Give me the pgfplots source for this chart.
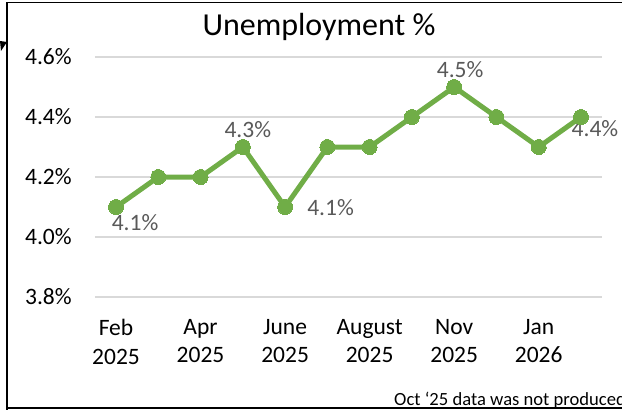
\documentclass[border=0pt]{standalone}
\usepackage{pgfplots}
\pgfplotsset{compat=1.18}
\usepackage{fontspec}
\setmainfont{Carlito}
\definecolor{exgreen}{HTML}{70AD47}
\definecolor{gridgray}{HTML}{D9D9D9}
\definecolor{lblgray}{HTML}{595959}
\newcommand{\tickfont}{\fontsize{23.5pt}{28.7pt}\selectfont}
\tikzset{lbl/.style={font=\tickfont, text=lblgray, inner sep=0pt}}
\begin{document}
\begin{tikzpicture}[x=1pt,y=1pt]
\useasboundingbox (0,0) rectangle (622,410);
\begin{scope}
\clip (0,0) rectangle (622,410);
\draw[line width=1.5pt] (7,-5) -- (7,407.5) -- (700,407.5);
\draw[line width=2pt] (7,1.5) -- (700,1.5);
\fill (0,369) -- (7,368) -- (1,359) -- cycle;
\node[anchor=base west, inner sep=0pt, font=\fontsize{18.6pt}{22pt}\selectfont] at (394,4.5) {Oct ‘25 data was not produced};
\end{scope}
\node[anchor=base, inner sep=0pt, font=\fontsize{32pt}{38pt}\selectfont] at (319,374) {Unemployment \%};
\begin{axis}[
  at={(94.9pt,113pt)}, anchor=south west,
  scale only axis, width=507.2pt, height=240pt,
  xmin=-0.5, xmax=11.5, ymin=3.8, ymax=4.6,
  axis line style={draw=none},
  major tick length=0pt,
  ytick={3.8,4.0,4.2,4.4,4.6},
  yticklabels={3.8\%,4.0\%,4.2\%,4.4\%,4.6\%},
  xtick={0,2,4,6,8,10},
  xticklabels={{Feb\\2025},{Apr\\2025},{June\\2025},{August\\2025},{Nov\\2025},{Jan\\2026}},
  ymajorgrids,
  grid style={gridgray, line width=1.5pt},
  tick label style={font=\tickfont, text=black},
  yticklabel style={anchor=east, inner sep=0pt, xshift=-23pt},
  xticklabel style={anchor=north, inner sep=0pt, align=center, yshift=-22pt},
  clip=false,
]
\addplot[exgreen, line width=5pt, line join=round, mark=*, mark size=7.5pt,
  mark options={line width=0pt, fill=exgreen, draw=exgreen}]
  coordinates {(0,4.1)(1,4.2)(2,4.2)(3,4.3)(4,4.1)(5,4.3)(6,4.3)(7,4.4)(8,4.5)(9,4.4)(10,4.3)(11,4.4)};
\node[lbl, xshift=19pt, yshift=-16pt] at (axis cs:0,4.1) {4.1\%};
\node[lbl, xshift=5pt, yshift=17pt] at (axis cs:3,4.3) {4.3\%};
\node[lbl, anchor=west, xshift=22pt, yshift=-1pt] at (axis cs:4,4.1) {4.1\%};
\node[lbl, xshift=6pt, yshift=17.5pt] at (axis cs:8,4.5) {4.5\%};
\node[lbl, xshift=14pt, yshift=-11.5pt] at (axis cs:11,4.4) {4.4\%};
\end{axis}
\end{tikzpicture}
\end{document}
